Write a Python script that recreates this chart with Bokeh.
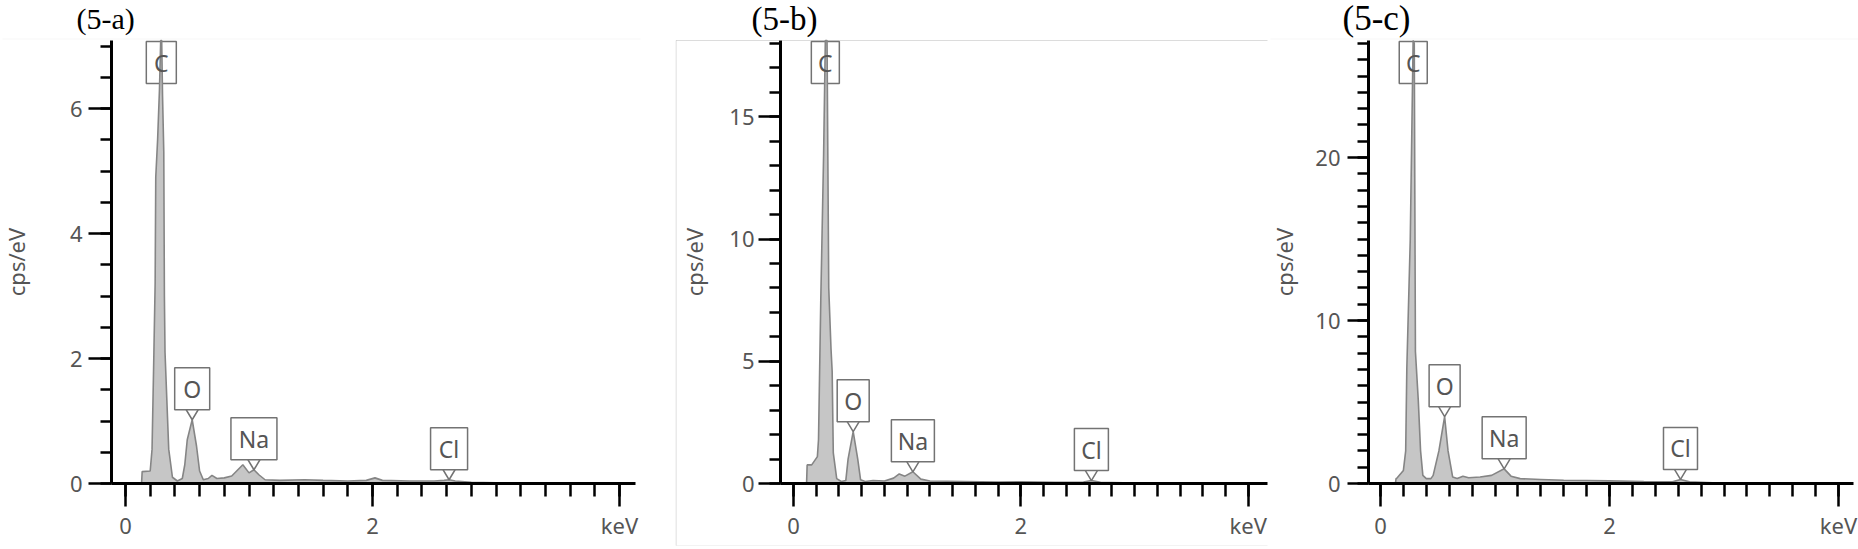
from bokeh.plotting import figure
from bokeh.layouts import row
from bokeh.models import Range1d, FixedTicker, Label, BoxAnnotation, ColumnDataSource
from bokeh.core.properties import value
from bokeh.embed import file_html
from bokeh.resources import INLINE

# ---------------- data ----------------
titles = ["(5-a)", "(5-b)", "(5-c)"]
elements = ["C", "O", "Na", "Cl"]

energy_a = [0.13, 0.135, 0.20, 0.215, 0.23, 0.24, 0.245, 0.26, 0.275, 0.285,
            0.293, 0.30, 0.31, 0.315, 0.32, 0.35, 0.38, 0.42, 0.46, 0.48,
            0.50, 0.54, 0.575, 0.60, 0.63, 0.67, 0.70, 0.74, 0.80, 0.86,
            0.90, 0.95, 1.00, 1.04, 1.08, 1.13, 1.25, 1.45, 1.60, 1.80,
            1.95, 2.02, 2.08, 2.30, 2.50, 2.58, 2.62, 2.67, 2.80, 3.00, 3.30]
cps_a = [0.0, 0.19, 0.20, 0.55, 2.1, 3.2, 4.9, 5.5, 6.3, 7.8,
         7.8, 6.2, 5.3, 3.0, 2.1, 0.55, 0.10, 0.04, 0.08, 0.30,
         0.70, 1.02, 0.60, 0.20, 0.06, 0.08, 0.13, 0.08, 0.09, 0.12,
         0.20, 0.30, 0.17, 0.22, 0.14, 0.06, 0.05, 0.06, 0.05, 0.04,
         0.05, 0.09, 0.05, 0.04, 0.04, 0.05, 0.06, 0.04, 0.02, 0.01, 0.0]

energy_b = [0.115, 0.12, 0.16, 0.21, 0.22, 0.24, 0.265, 0.28, 0.295, 0.31,
            0.33, 0.34, 0.35, 0.38, 0.42, 0.46, 0.48, 0.525, 0.565, 0.59,
            0.63, 0.70, 0.80, 0.88, 0.93, 0.98, 1.05, 1.12, 1.20, 1.50,
            1.80, 2.00, 2.30, 2.55, 2.62, 2.70, 2.90, 3.20]
cps_b = [0.0, 0.76, 0.76, 1.1, 1.8, 7.5, 13.5, 19.5, 19.0, 8.0,
         5.5, 4.6, 1.25, 0.2, 0.08, 0.12, 1.0, 2.12, 1.0, 0.15,
         0.08, 0.12, 0.10, 0.22, 0.39, 0.30, 0.48, 0.18, 0.10, 0.08,
         0.06, 0.07, 0.05, 0.06, 0.12, 0.05, 0.03, 0.0]

energy_c = [0.13, 0.136, 0.146, 0.20, 0.22, 0.23, 0.26, 0.285, 0.295, 0.305,
            0.33, 0.35, 0.37, 0.40, 0.44, 0.46, 0.51, 0.56, 0.59, 0.63,
            0.67, 0.72, 0.77, 0.87, 0.97, 1.08, 1.14, 1.22, 1.40, 1.60,
            1.80, 2.00, 2.30, 2.55, 2.62, 2.70, 2.90, 3.20, 3.50]
cps_c = [0.0, 0.30, 0.35, 0.8, 2.0, 7.1, 15.0, 28.5, 27.0, 8.1,
         5.1, 2.0, 0.5, 0.3, 0.3, 0.5, 2.0, 4.1, 2.0, 0.4,
         0.3, 0.45, 0.35, 0.4, 0.5, 0.9, 0.45, 0.3, 0.25, 0.2,
         0.18, 0.16, 0.12, 0.10, 0.25, 0.10, 0.05, 0.02, 0.0]

# element marker positions (keV) and peak tips (cps/eV); the C peak is off scale
mark_energy_a = [0.29, 0.54, 1.04, 2.62]
mark_tip_a = [None, 1.02, 0.22, 0.06]
mark_energy_b = [0.28, 0.525, 1.05, 2.62]
mark_tip_b = [None, 2.12, 0.48, 0.12]
mark_energy_c = [0.286, 0.56, 1.08, 2.62]
mark_tip_c = [None, 4.1, 0.9, 0.25]

x_major = [0, 2, 4]
x_minor = [round(0.2 * i, 1) for i in range(21)]
x_labels = {0: "0", 2: "2", 4: "keV"}

y_major_a = [0, 2, 4, 6]
y_minor_a = [0.5 * i for i in range(15)]
y_major_b = [0, 5, 10, 15]
y_minor_b = list(range(19))
y_major_c = [0, 10, 20]
y_minor_c = list(range(28))

# ---------------- layout constants (page pixels) ----------------
W, H = 1858, 549
Y0 = 483      # page y of cps = 0
YTOP = 40     # page y of the axis top
FONT = "Noto Sans"
TXT = "#555555"

cfgs = [
    dict(fig_left=0, fig_right=675, FL=111, FR=635, X0=125, PX=123.5, PU=62.5,
         title_x=76, title_size="30px", ytick=23, yminor=11, ystand=6, alstand=36,
         box_w=[30, 35, 46, 37]),
    dict(fig_left=675, fig_right=1268, FL=780, FR=1267, X0=793, PX=113.7, PU=24.45,
         title_x=751, title_size="33px", ytick=22, yminor=11, ystand=4, alstand=17,
         box_w=[28, 32, 43, 34]),
    dict(fig_left=1268, fig_right=1858, FL=1368, FR=1853, X0=1380, PX=114.5, PU=16.3,
         title_x=1342, title_size="35px", ytick=21, yminor=11, ystand=7, alstand=13,
         box_w=[28, 31, 44, 34]),
]

BOX_H = 42
V_H = 10
V_HW = 6
TITLE_BASE = 18   # page y used for the title baseline


def make_panel(i, energy, cps, m_energy, m_tip, y_major, y_minor):
    cfg = cfgs[i]
    FL, FR, X0, PX, PU = cfg["FL"], cfg["FR"], cfg["X0"], cfg["PX"], cfg["PU"]

    def xd(px):
        return (px - X0) / PX

    def yd(py):
        return (Y0 - py) / PU

    x_start, x_end = xd(FL), xd(FR)
    YM = yd(YTOP)
    p = figure(width=cfg["fig_right"] - cfg["fig_left"], height=H,
               x_range=Range1d(xd(cfg["fig_left"]), xd(cfg["fig_right"])),
               y_range=Range1d(yd(H), yd(0)),
               output_backend="svg", toolbar_location=None, min_border=0)
    p.grid.visible = False
    p.outline_line_color = None
    p.background_fill_color = "white"
    p.border_fill_color = "white"

    xa = p.xaxis[0]
    ya = p.yaxis[0]
    xa.fixed_location = 0
    xa.bounds = (x_start, x_end)
    ya.fixed_location = x_start
    ya.bounds = (0, YM)
    xa.ticker = FixedTicker(ticks=x_major, minor_ticks=x_minor)
    xa.major_label_overrides = x_labels
    ya.ticker = FixedTicker(ticks=y_major, minor_ticks=y_minor)
    ya.axis_label = "cps/eV"
    for ax in (xa, ya):
        ax.axis_line_width = 3
        ax.axis_line_color = "black"
        ax.major_tick_line_width = 2.5
        ax.minor_tick_line_width = 2.5
        ax.major_tick_line_color = "black"
        ax.minor_tick_line_color = "black"
        ax.major_tick_in = 0
        ax.minor_tick_in = 0
        ax.major_label_text_font = FONT
        ax.major_label_text_font_size = "22px"
        ax.major_label_text_color = TXT
    xa.major_tick_out = 23
    xa.minor_tick_out = 13
    xa.major_label_standoff = 3
    ya.major_tick_out = cfg["ytick"]
    ya.minor_tick_out = cfg["yminor"]
    ya.major_label_standoff = cfg["ystand"]
    ya.axis_label_text_font = FONT
    ya.axis_label_text_font_size = "22px"
    ya.axis_label_text_font_style = "normal"
    ya.axis_label_text_color = TXT
    ya.axis_label_standoff = cfg["alstand"]

    # screenshot frame lines around each panel
    if i == 1:
        lx = xd(675.5)
        for (l, r, t, b, col) in [(lx, x_end, YM, YM, "#8c8c8c"),
                                  (lx, lx, YM, yd(545), "#8c8c8c"),
                                  (lx, x_end, yd(545), yd(545), "#d8d8d8")]:
            p.add_layout(BoxAnnotation(left=l, right=r, top=t, bottom=b, fill_color=None,
                                       fill_alpha=0, line_color=col, line_width=1.2))
    else:
        l, r = (xd(2), xd(640)) if i == 0 else (xd(1270), xd(1858))
        p.add_layout(BoxAnnotation(left=l, right=r, top=YM + 1.5 / PU, bottom=YM + 1.5 / PU,
                                   fill_color=None, fill_alpha=0, line_color="#e0e0e0",
                                   line_width=1.2))

    # element callout boxes
    bx, by, bw = [], [], []
    vx, vy = [], []
    for k, el in enumerate(elements):
        e = m_energy[k]
        t = m_tip[k]
        if t is None:
            yc = yd(YTOP + 1 + BOX_H / 2)
        else:
            yc = t + (V_H + BOX_H / 2) / PU
            vx.append([e - V_HW / PX, e, e + V_HW / PX])
            vy.append([t + V_H / PU, t, t + V_H / PU])
        bx.append(e)
        by.append(yc)
        bw.append(cfg["box_w"][k])
    src = ColumnDataSource(dict(x=bx, y=by, w=bw, t=elements))
    p.rect(x="x", y="y", width="w", height=BOX_H, width_units="screen", height_units="screen",
           source=src, fill_color="white", line_color="#737373", line_width=1.5)

    # spectrum, cut at the top of the axis as in the instrument display
    shown = [min(v, YM) for v in cps]
    p.varea(x=energy, y1=[0] * len(energy), y2=shown, fill_color="#c6c6c6")
    p.line(energy, shown, line_color="#858585", line_width=1.6)

    p.multi_line(xs=vx, ys=vy, line_color="#737373", line_width=1.5)
    p.text(x="x", y="y", text="t", source=src, text_align="center", text_baseline="middle",
           text_font=value(FONT), text_font_size="23px", text_color=TXT)

    p.add_layout(Label(x=xd(cfg["title_x"]), y=yd(TITLE_BASE), text=titles[i],
                       text_font="Liberation Serif", text_font_size=cfg["title_size"],
                       text_color="black", text_baseline="alphabetic", text_align="left"))
    return p


pa = make_panel(0, energy_a, cps_a, mark_energy_a, mark_tip_a, y_major_a, y_minor_a)
pb = make_panel(1, energy_b, cps_b, mark_energy_b, mark_tip_b, y_major_b, y_minor_b)
pc = make_panel(2, energy_c, cps_c, mark_energy_c, mark_tip_c, y_major_c, y_minor_c)

layout = row(pa, pb, pc)
open("out.html", "w").write(file_html(layout, INLINE))
